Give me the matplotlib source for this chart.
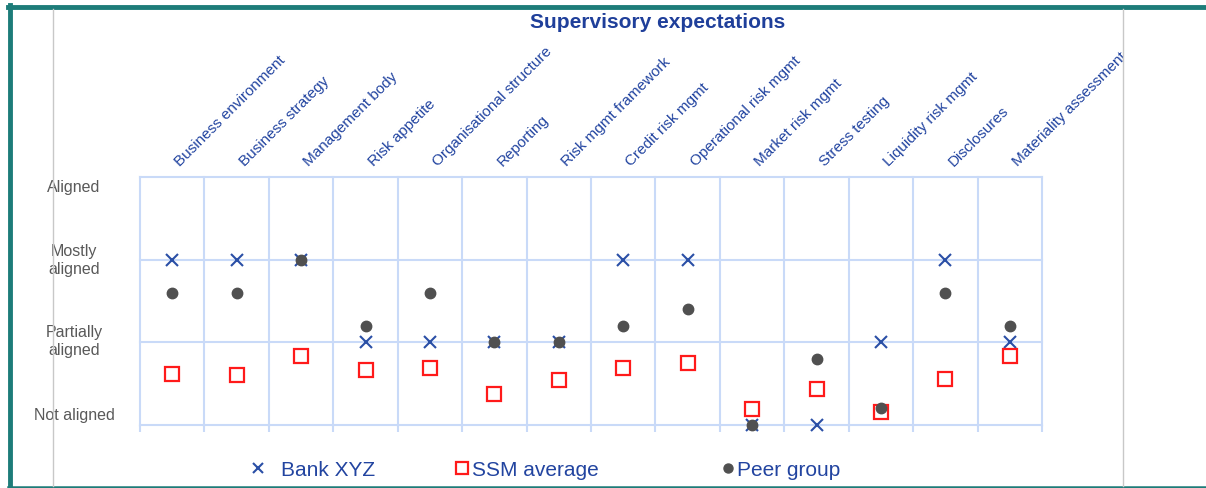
import matplotlib
matplotlib.use("Agg")
import matplotlib.pyplot as plt
from matplotlib import transforms
from matplotlib.lines import Line2D
from matplotlib.transforms import Bbox, TransformedBbox

plt.rcParams['font.family'] = ['Liberation Sans', 'DejaVu Sans']

categories = ["Business environment", "Business strategy", "Management body", "Risk appetite",
              "Organisational structure", "Reporting", "Risk mgmt framework", "Credit risk mgmt",
              "Operational risk mgmt", "Market risk mgmt", "Stress testing", "Liquidity risk mgmt",
              "Disclosures", "Materiality assessment"]
bank_xyz = [2, 2, 2, 1, 1, 1, 1, 2, 2, 0, 0, 1, 2, 1]
ssm_average = [0.62, 0.60, 0.84, 0.67, 0.69, 0.37, 0.54, 0.69, 0.75, 0.19, 0.43, 0.16, 0.56, 0.83]
peer_group = [1.6, 1.6, 2.0, 1.2, 1.6, 1.0, 1.0, 1.2, 1.4, 0.0, 0.8, 0.2, 1.6, 1.2]
level_labels = ["Not aligned", "Partially\naligned", "Mostly\naligned", "Aligned"]
level_label_pos = [0.13, 1.02, 2.0, 2.89]

W, H = 1206, 489
fig = plt.figure(figsize=(W / 100, H / 100), dpi=100)

TEAL = "#1D7C79"
BLUE = "#2A4FA6"
TXT_BLUE = "#2244A0"
GRID = "#C9DAF8"

# frame decorations
fig.add_artist(Line2D([10 / W, 10 / W], [0, 1 - 6 / H], color=TEAL, lw=3.5, transform=fig.transFigure))
fig.add_artist(Line2D([8 / W, 1], [1 - 7.5 / H, 1 - 7.5 / H], color=TEAL, lw=3.5, transform=fig.transFigure))
fig.add_artist(Line2D([8 / W, 1], [1.5 / H, 1.5 / H], color=TEAL, lw=1.8, transform=fig.transFigure))
for xp in (53, 1123):
    fig.add_artist(Line2D([xp / W, xp / W], [2 / H, 1 - 10 / H], color="#C8C8C8", lw=1.0,
                          transform=fig.transFigure))

ax = fig.add_axes([140 / W, 63 / H, 902 / W, 248 / H])
n = len(categories)
x = list(range(n))
ax.set_xlim(-0.5, n - 0.5)
ax.set_ylim(0, 3)
for s in ax.spines.values():
    s.set_visible(False)
ax.set_xticks([i - 0.5 for i in range(n + 1)])
ax.set_yticks([0, 1, 2, 3])
ax.tick_params(axis='x', length=5, width=1.5, color=GRID, labelbottom=False)
ax.tick_params(axis='y', length=0, labelleft=False)
ax.grid(True, color=GRID, lw=1.5)
for gl in ax.get_xgridlines() + ax.get_ygridlines():
    gl.set_clip_on(False)
ax.set_axisbelow(True)

ax.plot(x, bank_xyz, linestyle='none', marker='x', markersize=9, markeredgewidth=1.5,
        color=BLUE, clip_on=False, zorder=3)
ax.plot(x, ssm_average, linestyle='none', marker='s', markersize=10, markeredgewidth=1.6,
        markerfacecolor='white', markeredgecolor='#FF1A1A', clip_on=False, zorder=4)
ax.plot(x, peer_group, linestyle='none', marker='o', markersize=7.5,
        color='#505050', clip_on=False, zorder=5)

# category labels
clip = TransformedBbox(Bbox([[0, 0], [1123 / W, 1]]), fig.transFigure)
off = transforms.offset_copy(ax.transData, fig=fig, x=8, y=11, units='dots')
for i, c in enumerate(categories):
    t = ax.text(i, 3, c, rotation=45, rotation_mode='anchor', ha='left', va='baseline',
                fontsize=11, color=TXT_BLUE, transform=off)
    t.set_clip_box(clip)
    t.set_clip_on(True)

# level labels
blend = transforms.blended_transform_factory(fig.transFigure, ax.transData)
for lab, yp in zip(level_labels, level_label_pos):
    ax.text(74 / W, yp, lab, ha='center', va='center', fontsize=11.5, color='#595959',
            transform=blend, linespacing=1.3)

fig.text(658 / W, 1 - 23 / H, "Supervisory expectations", ha='center', va='center',
         fontsize=15, fontweight='bold', color="#1F3F9A")

# legends
entries = [
    (Line2D([], [], linestyle='none', marker='x', markersize=7.5, markeredgewidth=1.5, color=BLUE),
     "Bank XYZ", 248, 0.6),
    (Line2D([], [], linestyle='none', marker='s', markersize=9, markeredgewidth=1.6,
            markerfacecolor='white', markeredgecolor='#FF1A1A'), "SSM average", 452, -0.05),
    (Line2D([], [], linestyle='none', marker='o', markersize=6.5, color='#505050'),
     "Peer group", 718, -0.1),
]
for h, lab, xp, pad in entries:
    leg = fig.legend([h], [lab], loc='center left', bbox_to_anchor=(xp / W, 1 - 471 / H),
                     frameon=False, fontsize=15, handlelength=1.0, handletextpad=pad,
                     borderpad=0, borderaxespad=0)
    for t in leg.get_texts():
        t.set_color(TXT_BLUE)

fig.savefig("out.png", dpi=100)
